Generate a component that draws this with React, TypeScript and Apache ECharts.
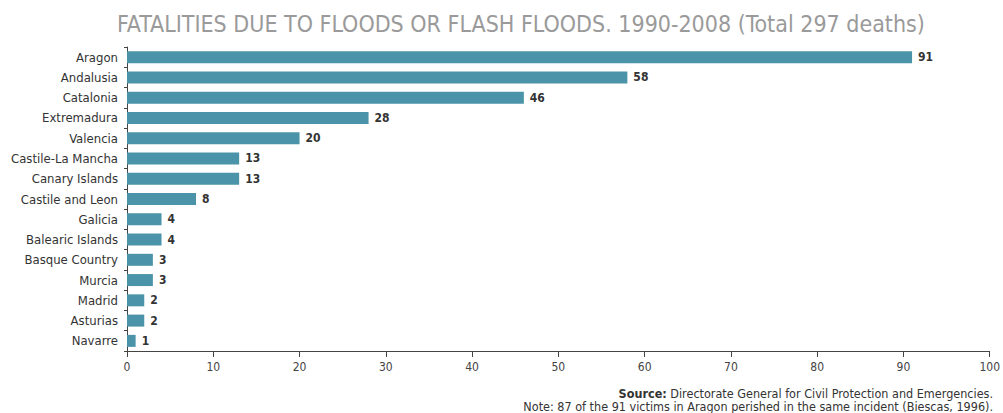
import React, { useEffect, useRef } from "react";
import * as echarts from "echarts";

const regions = [
  "Aragon", "Andalusia", "Catalonia", "Extremadura", "Valencia",
  "Castile-La Mancha", "Canary Islands", "Castile and Leon", "Galicia",
  "Balearic Islands", "Basque Country", "Murcia", "Madrid", "Asturias", "Navarre",
];
const deaths = [91, 58, 46, 28, 20, 13, 13, 8, 4, 4, 3, 3, 2, 2, 1];
const xTicks = [0, 10, 20, 30, 40, 50, 60, 70, 80, 90, 100];

const titleText = "FATALITIES DUE TO FLOODS OR FLASH FLOODS. 1990-2008 (Total 297 deaths)";
const FONT = "'DejaVu Sans Condensed', 'Liberation Sans Narrow', 'Roboto', sans-serif";

export default function App() {
  const ref = useRef<HTMLDivElement>(null);
  useEffect(() => {
    if (!ref.current) return;
    const chart = echarts.init(ref.current, undefined, { renderer: "svg" });
    chart.setOption({
      animation: false,
      backgroundColor: "#ffffff",
      title: {
        text: titleText,
        left: 112,
        top: 7,
        textStyle: { color: "#9a9a9a", fontSize: 23, fontWeight: "normal", fontFamily: FONT },
      },
      grid: { left: 127, right: 8, top: 47, bottom: 62, containLabel: false },
      xAxis: {
        type: "value",
        min: xTicks[0],
        max: xTicks[xTicks.length - 1],
        interval: 10,
        axisLine: { show: true, lineStyle: { color: "#444", width: 1 } },
        axisTick: { show: true, length: 6, lineStyle: { color: "#444" } },
        axisLabel: { color: "#444", fontSize: 12, fontFamily: FONT, margin: 10 },
        splitLine: { show: false },
      },
      yAxis: {
        type: "category",
        inverse: true,
        data: regions,
        axisLine: { show: true, lineStyle: { color: "#444", width: 1 } },
        axisTick: { show: true, length: 3, lineStyle: { color: "#444" } },
        axisLabel: { color: "#333", fontSize: 13, fontFamily: FONT, margin: 9 },
      },
      series: [
        {
          type: "bar",
          data: deaths,
          barWidth: 12,
          itemStyle: { color: "#4a93a8" },
          label: {
            show: true,
            position: "right",
            distance: 6,
            color: "#333",
            fontSize: 12,
            fontWeight: "bold",
            fontFamily: FONT,
          },
        },
      ],
      graphic: [
        {
          type: "text",
          right: 10,
          top: 387,
          style: {
            rich: {
              b: { fontWeight: "bold", fontSize: 12.5, fill: "#333", fontFamily: FONT },
              n: { fontSize: 12.5, fill: "#333", fontFamily: FONT },
            },
            text: "{b|Source:}{n| Directorate General for Civil Protection and Emergencies.}",
            align: "right",
          },
        },
        {
          type: "text",
          right: 10,
          top: 400,
          style: {
            text: "Note: 87 of the 91 victims in Aragon perished in the same incident (Biescas, 1996).",
            fontSize: 12.5,
            fill: "#333",
            fontFamily: FONT,
            align: "right",
          },
        },
      ],
    });
    return () => chart.dispose();
  }, []);
  return <div ref={ref} style={{ width: 1003, height: 413, position: "absolute", left: 0, top: 0 }} />;
}
